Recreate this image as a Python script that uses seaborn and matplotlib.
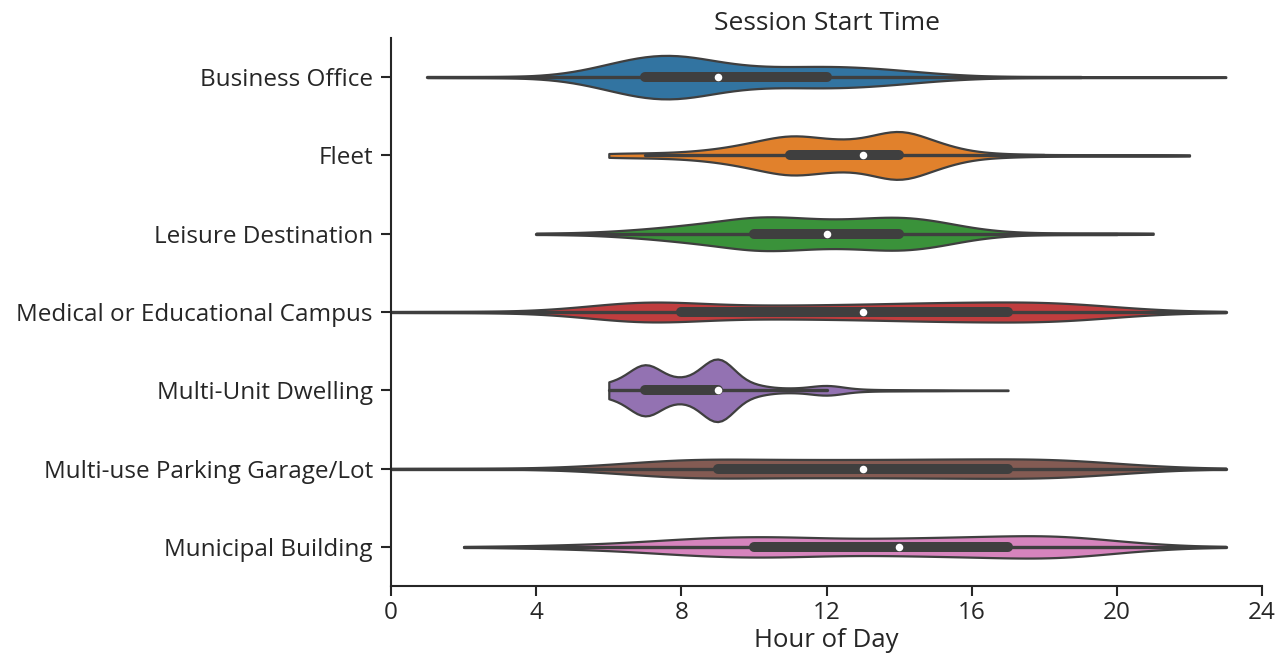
import numpy as np
import pandas as pd
import matplotlib
matplotlib.use("Agg")
import matplotlib.pyplot as plt
import seaborn as sns

categories = [
    "Business Office",
    "Fleet",
    "Leisure Destination",
    "Medical or Educational Campus",
    "Multi-Unit Dwelling",
    "Multi-use Parking Garage/Lot",
    "Municipal Building",
]

hours = list(range(24))

# sessions started per hour of day (estimated from the violin shapes)
business_office = [0, 4, 4, 4, 6, 28, 101, 179, 190, 112, 78, 78, 89, 78, 56, 28, 11, 4, 4, 4, 4, 4, 4, 4]
fleet = [0, 0, 0, 0, 0, 0, 21, 21, 29, 57, 116, 202, 140, 129, 272, 116, 29, 14, 7, 7, 7, 7, 7, 0]
leisure_destination = [0, 0, 0, 0, 4, 5, 14, 29, 51, 75, 113, 104, 85, 94, 113, 85, 33, 10, 5, 5, 5, 5, 0, 0]
medical_campus = [2, 2, 2, 2, 3, 10, 30, 51, 35, 23, 23, 25, 25, 28, 30, 35, 35, 35, 41, 30, 18, 5, 3, 2]
multi_unit_dwelling = [0, 0, 0, 0, 0, 0, 115, 462, 155, 575, 78, 30, 88, 15, 10, 8, 5, 5, 0, 0, 0, 0, 0, 0]
parking_garage = [1, 1, 1, 1, 2, 6, 13, 26, 34, 36, 32, 32, 32, 32, 32, 34, 34, 34, 37, 29, 19, 8, 3, 1]
municipal_building = [0, 0, 1, 2, 6, 8, 13, 21, 32, 40, 42, 42, 32, 32, 34, 37, 40, 42, 51, 42, 21, 11, 2, 1]

series = [business_office, fleet, leisure_destination, medical_campus,
          multi_unit_dwelling, parking_garage, municipal_building]

rows = []
for cat, counts in zip(categories, series):
    vals = np.repeat(hours, counts)
    rows.append(pd.DataFrame({"Location": cat, "Hour": vals}))
df = pd.concat(rows, ignore_index=True)

sns.set_theme(style="ticks")
plt.rcParams["font.family"] = ["Open Sans", "DejaVu Sans"]

fig = plt.figure(figsize=(12.8, 6.55), dpi=100)
ax = fig.add_axes([0.3055, 0.1053, 0.6805, 0.8367])

sns.violinplot(data=df, x="Hour", y="Location", hue="Location", order=categories,
               hue_order=categories, palette="tab10", legend=False, cut=0,
               density_norm="count", common_norm=True, bw_method=0.26,
               inner="box", linewidth=1.6, linecolor="#3f3f3f",
               inner_kws=dict(marker="o", markersize=4, solid_capstyle="round"),
               ax=ax)

ax.set_xlim(0, 24)
ax.set_xticks([0, 4, 8, 12, 16, 20, 24])
ax.set_ylim(6.5, -0.5)
ax.set_title("Session Start Time", fontsize=19, color="#262626", pad=6)
ax.set_xlabel("Hour of Day", fontsize=18.5, color="#262626", labelpad=2)
ax.set_ylabel("")
ax.tick_params(axis="both", labelsize=17.5, length=7, width=1.5, colors="#262626", pad=6)
ax.tick_params(axis="x", pad=4)
for s in ["left", "bottom"]:
    ax.spines[s].set_linewidth(1.5)
    ax.spines[s].set_color("#262626")
sns.despine(ax=ax)

fig.savefig("out.png", dpi=100)
